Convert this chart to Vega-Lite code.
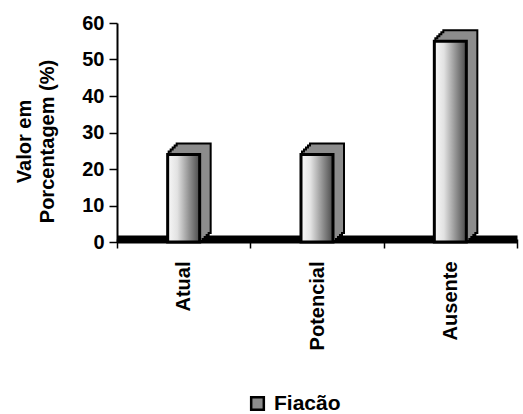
{
  "$schema": "https://vega.github.io/schema/vega-lite/v6.json",
  "width": 400,
  "height": 219,
  "autosize": {"type": "none"},
  "padding": {"left": 117, "top": 23, "right": 6, "bottom": 172},
  "background": "white",
  "config": {
    "view": {"stroke": null},
    "font": "Liberation Sans"
  },
  "data": {
    "values": [
      {"categoria": "Atual", "valor": 24, "serie": "Fiacão"},
      {"categoria": "Potencial", "valor": 24, "serie": "Fiacão"},
      {"categoria": "Ausente", "valor": 55, "serie": "Fiacão"}
    ]
  },
  "encoding": {
    "x": {"field": "categoria", "type": "nominal", "sort": null, "scale": {"paddingInner": 0, "paddingOuter": 0},
      "axis": {"title": null, "labelAngle": -90, "labelAlign": "right", "labelBaseline": "middle", "tickBand": "extent", "offset": -3, "tickSize": 9, "tickColor": "black", "tickWidth": 1.5, "domainColor": "black", "domainWidth": 8, "labelPadding": 13, "labelFont": "Liberation Sans", "labelFontSize": 20, "labelFontWeight": "bold", "labelColor": "black"}},
    "y": {"field": "valor", "type": "quantitative", "scale": {"domain": [0, 60], "nice": false},
      "axis": {"values": [0, 10, 20, 30, 40, 50, 60], "tickCount": 7, "grid": false, "labelOverlap": false, "domainColor": "black", "domainWidth": 2, "tickColor": "black", "tickWidth": 1.5, "tickSize": 8, "labelFont": "Liberation Sans", "labelFontSize": 20, "labelFontWeight": "bold", "labelColor": "black", "labelPadding": 5, "title": ["Valor em", "Porcentagem (%)"], "titleFont": "Liberation Sans", "titleFontSize": 20, "titleFontWeight": "bold", "titleColor": "black", "titleX": -87, "titleY": 118, "titleBaseline": "alphabetic", "titleAlign": "center", "titleLineHeight": 23}}
  },
  "layer": [
    {"mark": {"type": "bar", "width": 32, "fill": "black", "stroke": "black", "strokeWidth": 4, "xOffset": 2, "yOffset": -2}},
    {"mark": {"type": "bar", "width": 32, "fill": "black", "stroke": "black", "strokeWidth": 4, "xOffset": 4, "yOffset": -4}},
    {"mark": {"type": "bar", "width": 32, "fill": "black", "stroke": "black", "strokeWidth": 4, "xOffset": 6, "yOffset": -6}},
    {"mark": {"type": "bar", "width": 32, "fill": "black", "stroke": "black", "strokeWidth": 4, "xOffset": 8, "yOffset": -8}},
    {"mark": {"type": "bar", "width": 32, "fill": "black", "stroke": "black", "strokeWidth": 4, "xOffset": 10, "yOffset": -10}},
    {"mark": {"type": "bar", "width": 32, "fill": "#8c8c8c", "strokeWidth": 0, "xOffset": 2, "yOffset": -2}},
    {"mark": {"type": "bar", "width": 32, "fill": "#8c8c8c", "strokeWidth": 0, "xOffset": 4, "yOffset": -4}},
    {"mark": {"type": "bar", "width": 32, "fill": "#8c8c8c", "strokeWidth": 0, "xOffset": 6, "yOffset": -6}},
    {"mark": {"type": "bar", "width": 32, "fill": "#8c8c8c", "strokeWidth": 0, "xOffset": 8, "yOffset": -8}},
    {"mark": {"type": "bar", "width": 32, "strokeWidth": 0, "xOffset": 10, "yOffset": -10}, "encoding": {
      "color": {"field": "serie", "type": "nominal", "scale": {"range": ["#8c8c8c"]}, "legend": {"title": null, "orient": "none", "legendX": 130, "legendY": 370, "padding": 0, "symbolType": "square", "symbolSize": 160, "symbolStrokeColor": "black", "symbolStrokeWidth": 2.5, "labelFont": "Liberation Sans", "labelFontSize": 21, "labelFontWeight": "bold", "labelColor": "black", "labelOffset": 6}}}},
    {"mark": {"type": "bar", "width": 32, "stroke": "black", "strokeWidth": 3, "fill": {"gradient": "linear", "x1": 0, "x2": 1, "y1": 0, "y2": 0, "stops": [{"offset": 0, "color": "#f8f8f8"}, {"offset": 0.3, "color": "#e2e2e2"}, {"offset": 1, "color": "#4a4a4a"}]}}}
  ]
}
